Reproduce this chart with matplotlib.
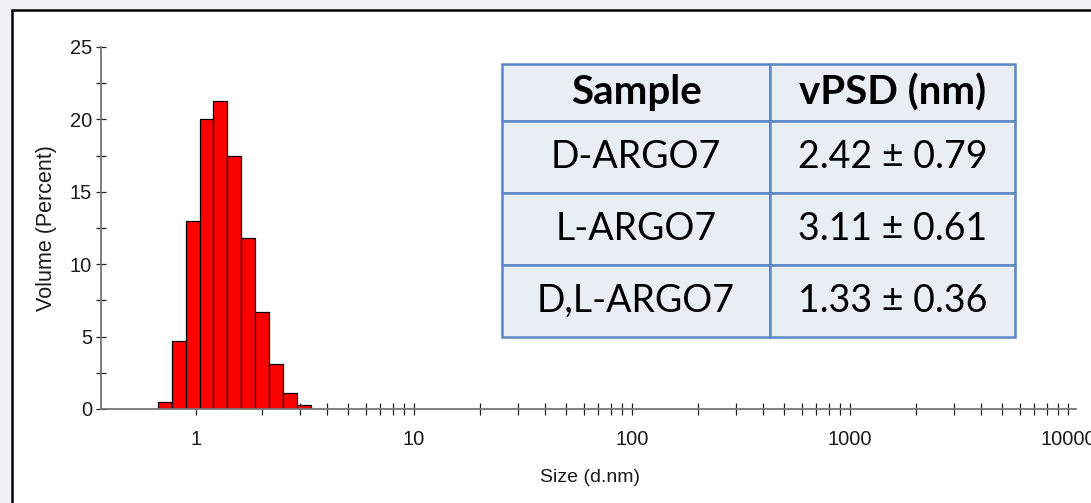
import numpy as np
import matplotlib
matplotlib.use("Agg")
import matplotlib.pyplot as plt
from matplotlib.patches import Rectangle
from matplotlib.ticker import FixedLocator, FixedFormatter, NullFormatter

# size classes (d.nm) and volume percent
sizes = [0.7195, 0.8332, 0.9649, 1.117, 1.294, 1.499, 1.736, 2.010, 2.328, 2.696, 3.122]
volume = [0.5, 4.7, 13.0, 20.0, 21.3, 17.5, 11.8, 6.7, 3.1, 1.1, 0.3]

# table content
table_cols = ["Sample", "vPSD (nm)"]
samples = ["D-ARGO7", "L-ARGO7", "D,L-ARGO7"]
vpsd = ["2.42 \u00b1 0.79", "3.11 \u00b1 0.61", "1.33 \u00b1 0.36"]

W, H = 1091, 503
AX_FONT = "Liberation Sans"
fig = plt.figure(figsize=(W / 100, H / 100), dpi=100)
fig.patch.set_facecolor("#f1f1f3")

# white panel with black frame (behind everything)
frame = Rectangle((12 / W, -0.1), 1.2, (H - 10) / H + 0.1, transform=fig.transFigure,
                  facecolor="white", edgecolor="black", linewidth=1.8, zorder=-10)
fig.patches.append(frame)

ax = fig.add_axes([101 / W, (H - 409) / H, 975 / W, 362 / H])
ax.patch.set_alpha(0)

# bars: each size class is one log-width step wide
ratio = 1.158
sizes = np.array(sizes)
left = sizes / np.sqrt(ratio)
widths = sizes * np.sqrt(ratio) - left
ax.bar(left, volume, width=widths, align="edge", color="#ff0000",
       edgecolor="black", linewidth=0.9, zorder=3)

ax.set_xscale("log")
ax.set_xlim(0.3665, 10890)
ax.set_ylim(0, 25)

for s in ["top", "right"]:
    ax.spines[s].set_visible(False)
for s in ["left", "bottom"]:
    ax.spines[s].set_color("#777777")
    ax.spines[s].set_linewidth(1.3)
    ax.spines[s].set_zorder(4)

ax.set_axisbelow(True)
ax.xaxis.set_major_locator(FixedLocator([1, 10, 100, 1000, 10000]))
ax.xaxis.set_major_formatter(FixedFormatter(["1", "10", "100", "1000", "10000"]))
minors = [m * 10 ** k for k in range(4) for m in range(2, 10)]
ax.xaxis.set_minor_locator(FixedLocator(minors))
ax.xaxis.set_minor_formatter(NullFormatter())
ax.set_yticks([0, 5, 10, 15, 20, 25])
ax.yaxis.set_minor_locator(FixedLocator([2.5, 7.5, 12.5, 17.5, 22.5]))

ax.tick_params(axis="both", which="both", direction="inout", color="#222222", width=0.9,
               labelcolor="#1a1a1a")
ax.tick_params(axis="x", which="both", length=8, pad=11)
ax.tick_params(axis="y", which="both", length=7, pad=3)
for lab in ax.get_xticklabels() + ax.get_yticklabels():
    lab.set_fontfamily(AX_FONT)
    lab.set_fontsize(14.5)

fig.text(590 / W, 1 - 478 / H, "Size (d.nm)", ha="center", va="center",
         family=AX_FONT, fontsize=14, color="#1a1a1a")
fig.text(47 / W, 1 - 228 / H, "Volume (Percent)", ha="center", va="center", rotation=90,
         family=AX_FONT, fontsize=15.5, color="#1a1a1a")

# table of vPSD values
tab_ax = fig.add_axes([502 / W, (H - 337) / H, 513 / W, 273 / H])
tab_ax.axis("off")
cell_text = [[s, v] for s, v in zip(samples, vpsd)]
tbl = tab_ax.table(cellText=cell_text, colLabels=table_cols, colWidths=[268, 245],
                   cellLoc="center", bbox=[0, 0, 1, 1])
tbl.auto_set_font_size(False)
for (r, c), cell in tbl.get_celld().items():
    cell.set_facecolor("#e9edf4")
    cell.set_edgecolor("#5b88c4")
    cell.set_linewidth(1.8)
    cell.set_height(57 if r == 0 else 72)
    txt = cell.get_text()
    txt.set_fontfamily("Lato")
    txt.set_color("black")
    if r == 0:
        txt.set_fontsize(29)
        txt.set_fontweight("bold")
    else:
        txt.set_fontsize(27)

fig.savefig("out.png", dpi=100)
